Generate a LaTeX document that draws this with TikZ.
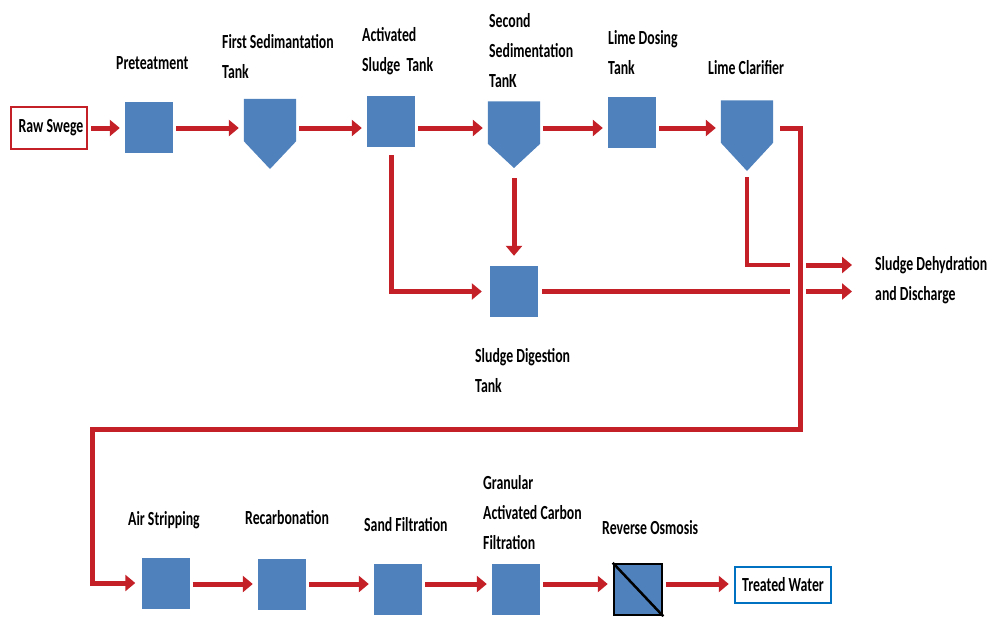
\documentclass[tikz,border=0pt]{standalone}
\usepackage{fontspec}
\setmainfont{Carlito}[FakeStretch=0.69]
\usetikzlibrary{arrows.meta}
\definecolor{flowred}{RGB}{196,32,40}
\definecolor{tankblue}{RGB}{79,129,189}
\definecolor{edgeblue}{RGB}{0,112,192}
\begin{document}
\begin{tikzpicture}[x=1pt,y=-1pt,
  every node/.style={font=\fontsize{20}{30}\selectfont\bfseries},
  tank/.style={fill=tankblue, minimum width=48pt, minimum height=51pt, inner sep=0pt},
  sed/.style={minimum width=52pt, minimum height=42pt, inner sep=0pt},
  flow/.style={draw=flowred, line width=5pt, line join=miter, -{Triangle[length=10pt,width=16pt]}},
  pipe/.style={draw=flowred, line width=4.5pt, line join=miter},
  lbl/.style={anchor=west, align=left, inner sep=0pt},
  endbox/.style={line width=2.5pt, inner sep=0pt}
]
\useasboundingbox (0,0) rectangle (992,616);
\coordinate (ra) at (0,128);
\coordinate (rb) at (0,584);

% top row
\node[endbox, draw=flowred, minimum width=76pt, minimum height=42pt] (raw) at (49,128) {\hspace*{4pt}Raw Swege};
\node[tank] (pre) at (149,127.5) {};
\node[sed] (fst) at (270,120) {};
\coordinate (fsttip) at (270,169);
\fill[tankblue] (fst.north west) -- (fst.north east) -- (fst.south east) -- (fsttip) -- (fst.south west) -- cycle;
\node[tank] (act) at (391,121.5) {};
\node[sed] (sst) at (514,122.5) {};
\coordinate (ssttip) at (514,168);
\fill[tankblue] (sst.north west) -- (sst.north east) -- (sst.south east) -- (ssttip) -- (sst.south west) -- cycle;
\node[tank] (lime) at (632,122.5) {};
\node[sed] (lc) at (747,121.5) {};
\coordinate (lctip) at (747,171);
\fill[tankblue] (lc.north west) -- (lc.north east) -- (lc.south east) -- (lctip) -- (lc.south west) -- cycle;
\node[tank] (dig) at (514,291.5) {};

% bottom row
\node[tank] (air) at (165.5,583) {};
\node[tank] (rec) at (282,584.5) {};
\node[tank] (sand) at (398,589) {};
\node[tank] (gac) at (516,589) {};
\node[tank, draw=black, line width=2.5pt] (ro) at (638,589.5) {};
\draw[black, line width=2.5pt] (ro.north west) -- (ro.south east);
\node[endbox, draw=edgeblue, minimum width=96pt, minimum height=36pt] (tw) at (783,585) {Treated Water};

% labels
\node[lbl] (lpre) at (116,63) {Preteatment};
\node[lbl] (lfst) at (222,57) {First Sedimantation\\Tank};
\node[lbl] (lact) at (362,51.5) {Activated\\Sludge\ \ Tank};
\node[lbl] (lsst) at (489,51) {Second\\Sedimentation\\TanK};
\node[lbl] (llime) at (608,53) {Lime Dosing\\Tank};
\node[lbl] (llc) at (708,68) {Lime Clarifier};
\node[lbl] (lsdd) at (875,280) {Sludge Dehydration\\and Discharge};
\node[lbl] (ldig) at (475,371) {Sludge Digestion\\Tank};
\node[lbl] (lair) at (128,520) {Air Stripping};
\node[lbl] (lrec) at (245,518) {Recarbonation};
\node[lbl] (lsand) at (364,525) {Sand Filtration};
\node[lbl] (lgac) at (483,513) {Granular\\Activated Carbon\\Filtration};
\node[lbl] (lro) at (602,528) {Reverse Osmosis};

% top row flow
\foreach \a/\b in {raw/pre, pre/fst, fst/act, act/sst, sst/lime, lime/lc}
  \draw[flow, shorten <=3pt, shorten >=5pt] (\a.east |- ra) -- (\b.west |- ra);
% bottom row flow
\foreach \a/\b in {air/rec, rec/sand, sand/gac, gac/ro, ro/tw}
  \draw[flow, shorten <=3pt, shorten >=5pt] (\a.east |- rb) -- (\b.west |- rb);

% bus from lime clarifier to air stripping
\coordinate (busR) at (800,429);
\coordinate (busL) at (92,429);
\draw[flow, shorten <=7pt, shorten >=6pt] (lc.east |- ra) -| (busR) -- (busL) |- (air.west);

% sludge lines
\coordinate (g1l) at (790,265);
\coordinate (g1r) at (806,265);
\coordinate (e1) at (852,265);
\coordinate (g2l) at (790,291.5);
\coordinate (g2r) at (806,291.5);
\coordinate (e2) at (852,291.5);
\draw[pipe, shorten <=6pt] (lctip) |- (g1l);
\draw[flow] (g1r) -- (e1);
\draw[pipe, shorten <=4pt] (dig.east) -- (g2l);
\draw[flow] (g2r) -- (e2);
\draw[flow, shorten <=8pt, shorten >=8pt] (act.south) |- (dig.west);
\draw[flow, shorten <=10pt, shorten >=10pt] (ssttip) -- (dig.north);
\end{tikzpicture}
\end{document}
